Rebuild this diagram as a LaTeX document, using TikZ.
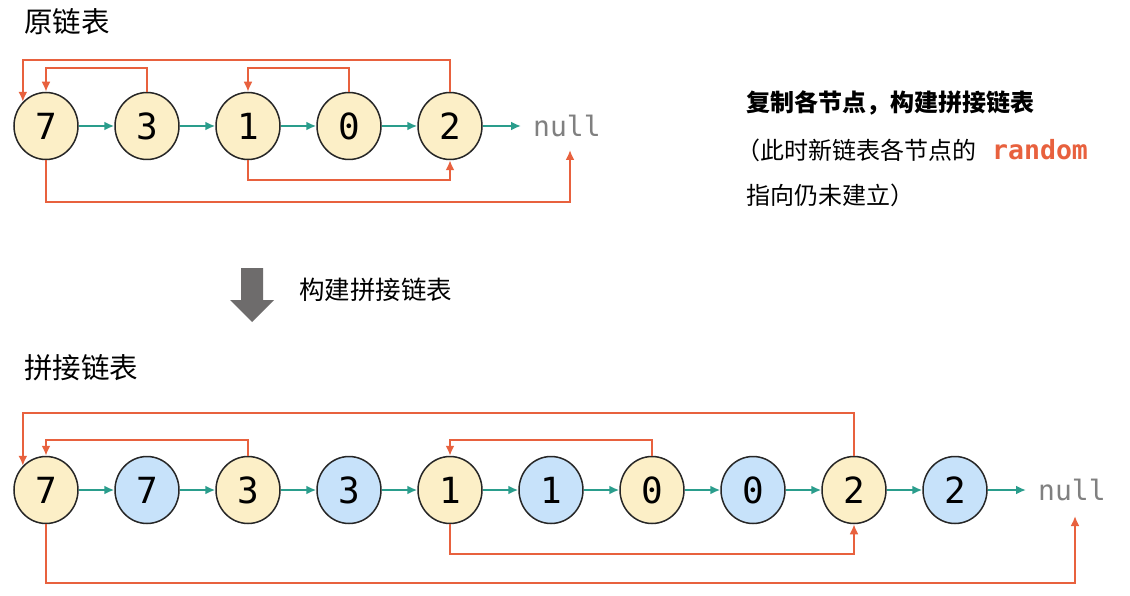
\documentclass[tikz,border=0pt]{standalone}
\usepackage{fontspec}
\setmainfont{Noto Sans CJK SC}
\newfontfamily\cjkf{Noto Sans CJK SC}
\newfontfamily\monof{DejaVu Sans Mono}
\usetikzlibrary{arrows.meta,shapes.geometric}
\definecolor{yel}{HTML}{FCEFC7}
\definecolor{blu}{HTML}{C7E2FA}
\definecolor{rd}{HTML}{E8613E}
\definecolor{tl}{HTML}{2A9D8C}
\definecolor{gr}{HTML}{808080}
\definecolor{bigarrow}{HTML}{6E6C6C}
\tikzset{
  orig/.style={ellipse, draw=black!85, line width=1.5pt, fill=yel, minimum width=64pt, minimum height=67pt, inner sep=0pt, font=\monof\fontsize{36}{38}\selectfont},
  copyn/.style={orig, fill=blu},
  nxt/.style={draw=tl, line width=2.4pt, -{Latex[length=10pt,width=9pt]}},
  rnd/.style={draw=rd, line width=2.4pt, -{Latex[length=10pt,width=9pt]}},
  nulltxt/.style={text=gr, font=\monof\fontsize{28}{30}\selectfont, anchor=west, inner sep=0pt},
  title/.style={anchor=west, inner sep=0pt, font=\cjkf\fontsize{28.5}{32}\selectfont},
  note/.style={anchor=west, inner sep=0pt, font=\cjkf\fontsize{24}{28}\selectfont}
}
\begin{document}
\begin{tikzpicture}[x=1pt,y=-1pt]
\path[use as bounding box, fill=white] (0,0) rectangle (1130,596);

% ---------- titles ----------
\node[title] (ttl1) at (24,22) {原链表};
\node[title] (ttl2) at (24,368) {拼接链表};

% ---------- original list ----------
\node[orig] (a7) at (46,126) {7};
\node[orig] (a3) at (147,126) {3};
\node[orig] (a1) at (248,126) {1};
\node[orig] (a0) at (349,126) {0};
\node[orig] (a2) at (450,126) {2};
\node[nulltxt] (an) at (533,126) {null};
\coordinate (anu) at (570,150);

\draw[nxt] (a7) -- (a3);
\draw[nxt] (a3) -- (a1);
\draw[nxt] (a1) -- (a0);
\draw[nxt] (a0) -- (a2);
\draw[nxt] (a2) -- ([xshift=-12pt]an.west);

\draw[rnd] (a2.north) -- (a2.north |- 0,60) -| (a7.north west);
\draw[rnd] (a3.north) -- (a3.north |- 0,68) -| (a7.north);
\draw[rnd] (a0.north) -- (a0.north |- 0,68) -| (a1.north);
\draw[rnd] (a1.south) -- (a1.south |- 0,180) -| (a2.south);
\draw[rnd] (a7.south) -- (a7.south |- 0,202) -| (anu);

% ---------- note ----------
\node[note, font=\cjkf\bfseries\fontsize{24}{28}\selectfont] (n1) at (746,103) {复制各节点，构建拼接链表};
\node[note] (n2) at (736,150) {（此时新链表各节点的\hspace{16pt}{\monof\bfseries\color{rd}\fontsize{26.5}{28}\selectfont random}};
\node[note] (n3) at (746,195) {指向仍未建立）};

% ---------- big arrow ----------
\fill[bigarrow] (241,268) -- (263,268) -- (263,300) -- (274,300) -- (252,322) -- (230,300) -- (241,300) -- cycle;
\node[note, font=\cjkf\fontsize{25.5}{28}\selectfont] (n4) at (299,290) {构建拼接链表};

% ---------- spliced list ----------
\node[orig]  (b7)  at (46,490) {7};
\node[copyn] (c7)  at (147,490) {7};
\node[orig]  (b3)  at (248,490) {3};
\node[copyn] (c3)  at (349,490) {3};
\node[orig]  (b1)  at (450,490) {1};
\node[copyn] (c1)  at (551,490) {1};
\node[orig]  (b0)  at (652,490) {0};
\node[copyn] (c0)  at (753,490) {0};
\node[orig]  (b2)  at (854,490) {2};
\node[copyn] (c2)  at (955,490) {2};
\node[nulltxt] (bn) at (1038,490) {null};
\coordinate (bnu) at (1075,516);

\draw[nxt] (b7) -- (c7);
\draw[nxt] (c7) -- (b3);
\draw[nxt] (b3) -- (c3);
\draw[nxt] (c3) -- (b1);
\draw[nxt] (b1) -- (c1);
\draw[nxt] (c1) -- (b0);
\draw[nxt] (b0) -- (c0);
\draw[nxt] (c0) -- (b2);
\draw[nxt] (b2) -- (c2);
\draw[nxt] (c2) -- ([xshift=-12pt]bn.west);

\draw[rnd] (b2.north) -- (b2.north |- 0,413) -| (b7.north west);
\draw[rnd] (b3.north) -- (b3.north |- 0,440) -| (b7.north);
\draw[rnd] (b0.north) -- (b0.north |- 0,440) -| (b1.north);
\draw[rnd] (b1.south) -- (b1.south |- 0,554) -| (b2.south);
\draw[rnd] (b7.south) -- (b7.south |- 0,583) -| (bnu);
\end{tikzpicture}
\end{document}
